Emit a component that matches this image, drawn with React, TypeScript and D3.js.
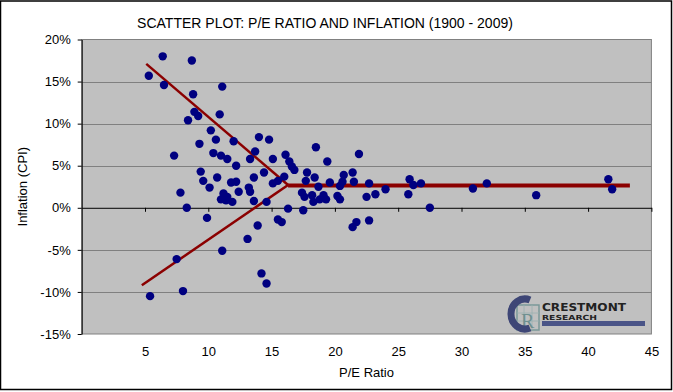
import React, { useEffect, useRef } from "react";
import * as d3 from "d3";

// P/E ratio vs CPI inflation, one point per year
const peRatio = [
  6.4, 8.7, 5.3, 6.5, 11.1, 8.8, 8.9, 9.2, 8.4, 10.9, 10.2, 10.6, 9.3, 12.0, 14.0, 14.8,
  7.3, 10.4, 11.0, 11.5, 13.7, 13.3, 15.1, 16.1, 16.4, 16.6, 16.8, 18.5, 19.4, 21.9,
  12.2, 9.4, 14.4, 17.8, 16.0, 18.4, 20.7, 21.4, 13.6, 10.7, 9.6, 11.8, 12.2, 15.5,
  15.1, 17.7, 10.1, 7.8, 13.2, 13.3, 12.4, 11.2, 11.5, 11.0, 11.4, 11.9, 13.6, 14.6,
  17.4, 17.6, 18.2, 18.7, 18.3, 18.8, 19.1, 19.3, 19.6, 20.2, 20.4, 20.4, 20.6, 21.5,
  8.3, 16.3, 17.5, 9.9, 13.9, 13.1, 11.1, 7.5, 14.2, 14.6, 5.4, 8.0, 15.5, 15.8,
  21.4, 21.7, 22.7, 22.7, 22.5, 23.2, 24.0, 25.9, 26.2, 26.8, 25.8, 27.5, 30.9, 32.0,
  35.9, 41.6, 41.9,
];
const inflation = [
  18.0, 17.5, 15.7, 14.6, 14.4, 13.5, 11.4, 10.9, 10.4, 11.1, 9.2, 8.1, 7.6, 7.9, 8.4, 8.1,
  6.2, 6.5, 6.2, 5.8, 6.7, 5.8, 5.8, 6.3, 5.5, 4.9, 4.5, 7.2, 5.5, 6.4,
  5.0, 4.3, 4.2, 4.2, 3.7, 3.6, 3.9, 4.2, 3.6, 3.6, 3.2, 3.0, 3.1, 3.2,
  2.9, 3.2, 2.4, 1.8, 2.4, 1.9, 1.9, 1.7, 1.3, 1.0, 0.9, 0.7, 0.8, 0.7,
  1.8, 1.3, 1.5, 2.5, 0.7, 1.0, 1.5, 1.0, 3.0, 1.4, 1.0, 2.6, 3.1, 3.1,
  0.0, -0.1, -0.3, -1.2, -2.1, -3.7, -5.1, -6.1, -7.8, -9.0, -10.5, -9.9, -1.4, -1.7,
  -2.3, -1.7, -1.5, 2.9, 1.3, 1.6, 2.2, 3.4, 2.7, 2.9, 1.6, 0.0, 2.3, 2.9,
  1.5, 3.4, 2.2,
];

// hand-drawn trend lines: [P/E, inflation]
const trendUpper: [number, number][] = [[5.1, 17.1], [16.3, 2.7]];
const trendLower: [number, number][] = [[4.75, -9.2], [16.3, 2.7]];
const trendFlat: [number, number][] = [[16.3, 2.65], [43.3, 2.65]];

const xTicks = [5, 10, 15, 20, 25, 30, 35, 40, 45];
const yTicks = [-15, -10, -5, 0, 5, 10, 15, 20];

function App() {
  const ref = useRef<SVGSVGElement | null>(null);
  const width = 673;
  const height = 392;
  const marginLeft = 81.7;
  const marginRight = 21.6;
  const marginTop = 39.5;
  const marginBottom = 58;

  useEffect(() => {
    const x = d3.scaleLinear().domain([0, 45]).range([marginLeft, width - marginRight]);
    const y = d3.scaleLinear().domain([-15, 20]).range([height - marginBottom, marginTop]);

    const svg = d3.select(ref.current);
    svg.selectAll("*").remove();
    svg
      .attr("width", width)
      .attr("height", height)
      .attr("viewBox", [0, 0, width, height])
      .attr("style", "position:absolute;left:0;top:0;font-family:'Liberation Sans', Arial, sans-serif;");

    svg.append("rect").attr("width", width).attr("height", height).attr("fill", "white");
    svg
      .append("rect")
      .attr("x", 0.5)
      .attr("y", 1)
      .attr("width", width - 2)
      .attr("height", height - 3.5)
      .attr("fill", "none")
      .attr("stroke", "black")
      .attr("stroke-width", 1.5);

    // plot area
    svg
      .append("rect")
      .attr("x", x(0))
      .attr("y", y(20))
      .attr("width", x(45) - x(0))
      .attr("height", y(-15) - y(20))
      .attr("fill", "#c0c0c0")
      .attr("stroke", "#808080");

    // gridlines
    svg
      .append("g")
      .selectAll("line")
      .data(yTicks.filter((d) => d !== 0 && d !== 20 && d !== -15))
      .join("line")
      .attr("x1", x(0))
      .attr("x2", x(45))
      .attr("y1", (d) => Math.round(y(d)) + 0.5)
      .attr("y2", (d) => Math.round(y(d)) + 0.5)
      .attr("stroke", "#808080");

    // y axis
    svg
      .append("g")
      .attr("transform", `translate(${x(0)},0)`)
      .call(
        d3
          .axisLeft(y)
          .tickValues(yTicks)
          .tickFormat((d) => `${d}%`)
          .tickSize(4)
          .tickSizeOuter(0)
          .tickPadding(7)
      )
      .call((g) => g.selectAll("text").attr("font-size", 13).attr("fill", "black").attr("font-family", "'Liberation Sans', Arial"));

    // x axis crossing at 0%
    svg
      .append("g")
      .attr("transform", `translate(0,${y(0)})`)
      .call(d3.axisBottom(x).tickValues(xTicks).tickFormat(() => "").tickSize(4).tickSizeOuter(0));

    // x tick labels at bottom
    svg
      .append("g")
      .attr("transform", `translate(0,${y(-15)})`)
      .call(d3.axisBottom(x).tickValues(xTicks).tickSize(0).tickPadding(13))
      .call((g) => g.select(".domain").remove())
      .call((g) => g.selectAll("text").attr("font-size", 13).attr("fill", "black").attr("font-family", "'Liberation Sans', Arial"));

    // trend lines
    const line = d3
      .line<[number, number]>()
      .x((d) => x(d[0]))
      .y((d) => y(d[1]));
    svg.append("path").attr("d", line(trendUpper)).attr("stroke", "#8b0000").attr("stroke-width", 2.5).attr("fill", "none");
    svg.append("path").attr("d", line(trendLower)).attr("stroke", "#8b0000").attr("stroke-width", 2.5).attr("fill", "none");
    svg.append("path").attr("d", line(trendFlat)).attr("stroke", "#8b0000").attr("stroke-width", 4).attr("fill", "none");

    // points
    svg
      .append("g")
      .selectAll("circle")
      .data(d3.range(peRatio.length))
      .join("circle")
      .attr("cx", (i) => x(peRatio[i]))
      .attr("cy", (i) => y(inflation[i]))
      .attr("r", 4.2)
      .attr("fill", "#000080");

    // titles
    svg
      .append("text")
      .attr("x", 325)
      .attr("y", 28)
      .attr("text-anchor", "middle")
      .attr("font-size", 14)
      .text("SCATTER PLOT: P/E RATIO AND INFLATION (1900 - 2009)");
    svg
      .append("text")
      .attr("x", (x(0) + x(45)) / 2)
      .attr("y", 377)
      .attr("text-anchor", "middle")
      .attr("font-size", 13)
      .text("P/E Ratio");
    svg
      .append("text")
      .attr("transform", `translate(27,${(y(20) + y(-15)) / 2}) rotate(-90)`)
      .attr("text-anchor", "middle")
      .attr("font-size", 13)
      .text("Inflation (CPI)");

    // logo: big C with a gridded R box, wordmark and bar
    const logo = svg.append("g");
    logo
      .append("rect")
      .attr("x", 517)
      .attr("y", 305)
      .attr("width", 22)
      .attr("height", 25)
      .attr("fill", "none")
      .attr("stroke", "#7a9898")
      .attr("stroke-width", 1.5);
    logo
      .append("path")
      .attr("d", "M517,313H539M517,321H539M524,305V330M532,305V330")
      .attr("stroke", "#9ab0b0")
      .attr("stroke-width", 0.8);
    logo
      .append("text")
      .attr("x", 521)
      .attr("y", 328)
      .attr("font-size", 20)
      .attr("font-family", "'Liberation Serif', serif")
      .attr("fill", "#6f9090")
      .text("R");
    logo
      .append("path")
      .attr("d", "M530,300 A14,15 0 1 0 530,328")
      .attr("fill", "none")
      .attr("stroke", "#3e4676")
      .attr("stroke-width", 7);
    logo
      .append("text")
      .attr("x", 542)
      .attr("y", 311)
      .attr("font-size", 10)
      .attr("font-weight", "bold")
      .attr("font-family", "'DejaVu Sans', sans-serif")
      .attr("fill", "#222")
      .attr("textLength", 84)
      .attr("lengthAdjust", "spacingAndGlyphs")
      .text("CRESTMONT");
    logo
      .append("text")
      .attr("x", 542)
      .attr("y", 320)
      .attr("font-size", 7)
      .attr("font-weight", "bold")
      .attr("font-family", "'DejaVu Sans', sans-serif")
      .attr("fill", "#222")
      .attr("textLength", 55)
      .attr("lengthAdjust", "spacingAndGlyphs")
      .text("RESEARCH");
    logo.append("rect").attr("x", 542).attr("y", 321).attr("width", 103).attr("height", 5).attr("fill", "#4a5487");
  }, []);

  return (
    <div>
      <svg ref={ref}></svg>
    </div>
  );
}

export default App;
